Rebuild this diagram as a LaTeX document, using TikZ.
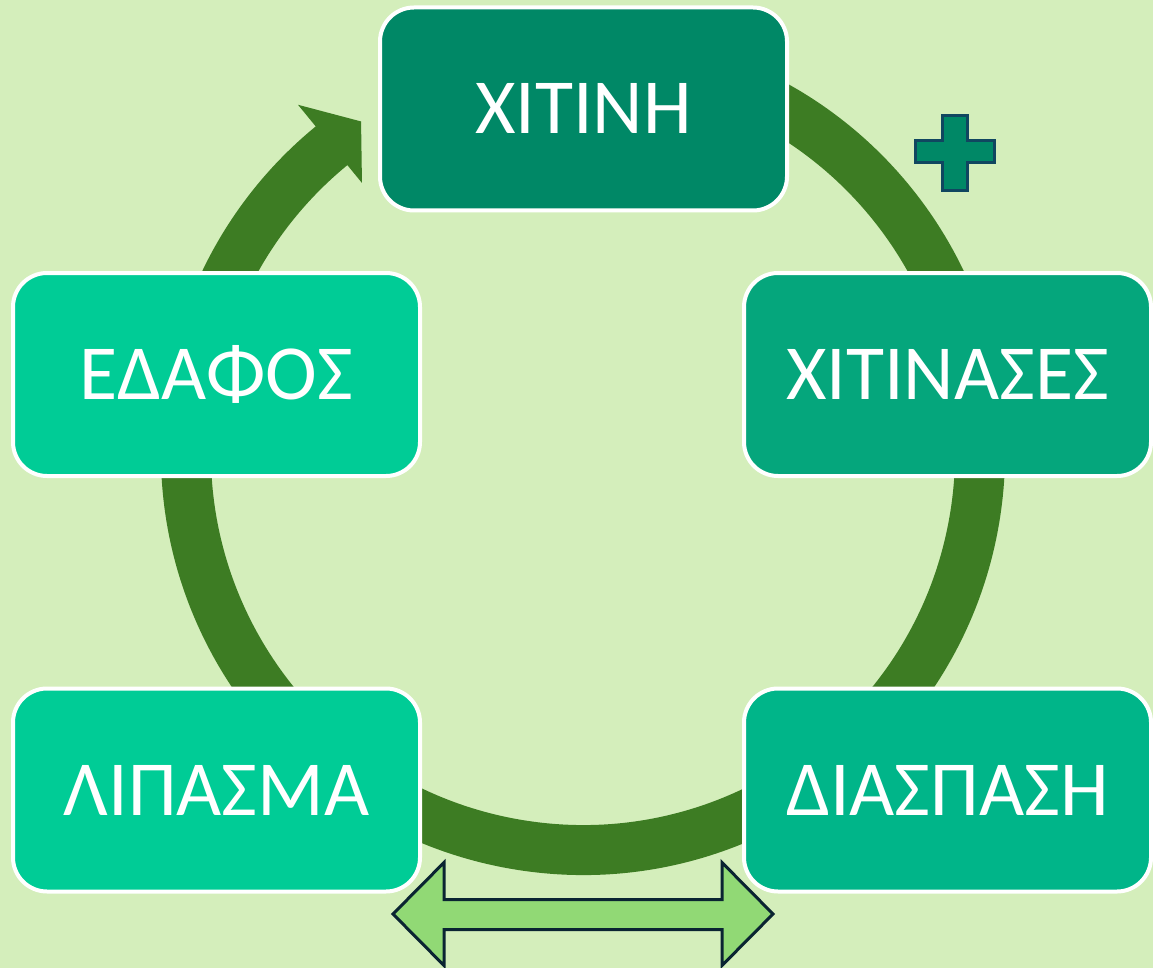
\documentclass[tikz,border=0pt]{standalone}
\usepackage{fontspec}
\setmainfont{Carlito}
\usetikzlibrary{calc}
\definecolor{bg}{RGB}{212,238,187}
\definecolor{ringc}{RGB}{61,124,35}
\definecolor{cA}{RGB}{0,136,102}
\definecolor{cB}{RGB}{5,166,124}
\definecolor{cC}{RGB}{0,181,137}
\definecolor{cD}{RGB}{0,204,150}
\definecolor{plusborder}{RGB}{16,70,96}
\definecolor{arrfill}{RGB}{145,217,117}
\definecolor{arrborder}{RGB}{10,36,50}
\begin{document}
\begin{tikzpicture}[x=1pt,y=-1pt,
  box/.style={draw=white, line width=4pt, rounded corners=34pt,
    minimum width=407pt, minimum height=203pt, inner sep=0pt,
    text=white, font=\fontsize{78}{80}\selectfont,
    text height=50pt, text depth=0pt},
  ring/.style={draw=ringc, line width=50pt},
  plusshape/.style={fill=cA, draw=plusborder, line width=3pt, line join=miter},
  dblarrow/.style={fill=arrfill, draw=arrborder, line width=3pt, line join=miter}]
\fill[bg] (0,0) rectangle (1153,968);
\useasboundingbox (0,0) rectangle (1153,968);
\coordinate (c) at (583,453);
% ring
\draw[ring] ($(c)+(-80:397)$) arc[start angle=-80, end angle=231, radius=397];
\fill[ringc] ($(c)+(230.7:450)$) -- ($(c)+(236.2:399)$) -- ($(c)+(230.7:349)$) -- cycle;
% boxes
\node[box, fill=cA] (chitini) at (583.5,109) {ΧΙΤΙΝΗ};
\node[box, fill=cB] (chitinases) at (947.5,374.5) {ΧΙΤΙΝΑΣΕΣ};
\node[box, fill=cC] (diaspasi) at (947.5,790) {ΔΙΑΣΠΑΣΗ};
\node[box, fill=cD] (lipasma) at (216.5,790) {ΛΙΠΑΣΜΑ};
\node[box, fill=cD] (edafos) at (216.5,374.5) {ΕΔΑΦΟΣ};
% plus sign
\draw[plusshape] (942.5,115.5) -- (967.5,115.5) -- (967.5,140.5) -- (994.5,140.5)
  -- (994.5,162.5) -- (967.5,162.5) -- (967.5,190.5) -- (942.5,190.5)
  -- (942.5,162.5) -- (915.5,162.5) -- (915.5,140.5) -- (942.5,140.5) -- cycle;
% double arrow
\draw[dblarrow] (393,914) -- (444,862.5) -- (444,899.5) -- (722,899.5) -- (722,862.5)
  -- (773,914) -- (722,965.5) -- (722,929.5) -- (444,929.5) -- (444,965.5) -- cycle;
\end{tikzpicture}
\end{document}
